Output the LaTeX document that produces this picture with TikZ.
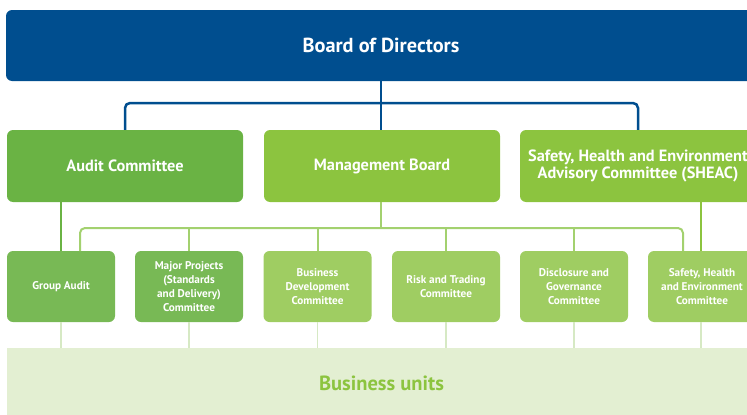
\documentclass[tikz,border=0pt]{standalone}
\usepackage{fontspec}
\setmainfont{PT Sans}
\usepackage{xcolor}

\definecolor{boardblue}{HTML}{004E8F}
\definecolor{auditgreen}{HTML}{6AB344}
\definecolor{mgmtgreen}{HTML}{8CC43F}
\definecolor{midgreen}{HTML}{78B955}
\definecolor{lightgreen}{HTML}{9FCD62}
\definecolor{busgreen}{HTML}{A3D16F}
\definecolor{faintgreen}{HTML}{D6E9C4}
\definecolor{unitsbg}{HTML}{E3EFD2}

\tikzset{
  box/.style={rounded corners=6pt, text=white, font=\bfseries, align=center, inner sep=0pt},
  bigbox/.style={box, minimum width=236pt, minimum height=72pt, font=\bfseries\fontsize{16.3}{17}\selectfont},
  smallbox/.style={box, minimum width=108pt, minimum height=71pt, font=\bfseries\fontsize{11.2}{14}\selectfont},
  bluelink/.style={draw=boardblue, line width=2.5pt, rounded corners=5pt},
  greenlink/.style={draw=#1, line width=2pt, rounded corners=5pt},
}

\begin{document}
\begin{tikzpicture}[x=1pt, y=-1pt]

    \useasboundingbox (0,0) rectangle (747,415);
    \clip (0,0) rectangle (747,415);

    \node [box, fill=boardblue, minimum width=750pt, minimum height=71pt,
           font=\bfseries\fontsize{20.3}{22}\selectfont] (bod) at (381, 45.5) {Board of Directors};

    \node [bigbox, fill=auditgreen] (audit) at (125, 166) {Audit Committee};
    \node [bigbox, fill=mgmtgreen] (mgmt) at (382, 166) {Management Board};
    \node [bigbox, fill=mgmtgreen] (sheac) at (638, 166) {Safety, Health and Environment\\Advisory Committee (SHEAC)};

    \node [smallbox, fill=midgreen] (ga) at (61, 286.5) {Group Audit};
    \node [smallbox, fill=midgreen] (mp) at (189, 286.5) {Major Projects\\(Standards\\and Delivery)\\Committee};
    \node [smallbox, fill=lightgreen] (bd) at (317.5, 286.5) {Business\\Development\\Committee};
    \node [smallbox, fill=lightgreen] (rt) at (446, 286.5) {Risk and Trading\\Committee};
    \node [smallbox, fill=lightgreen] (dg) at (574, 286.5) {Disclosure and\\Governance\\Committee};
    \node [smallbox, fill=lightgreen] (she) at (702, 286.5) {Safety, Health\\and Environment\\Committee};

    \node [fill=unitsbg, minimum width=749pt, minimum height=70pt, inner sep=0pt,
           text=mgmtgreen, font=\bfseries\fontsize{20.5}{22}\selectfont] (bu) at (381.5, 383) {Business units};

    \coordinate (top) at (381, 103);
    \coordinate (bus) at (381, 228);
    \coordinate (busl) at (80, 251);
    \coordinate (busr) at (683, 251);

    \draw [bluelink] (audit.north) |- (top) -| (sheac.north);
    \draw [bluelink] (bod.south) -- (mgmt.north -| bod.south);

    \draw [greenlink=auditgreen] (audit.south -| ga.north) -- (ga.north);
    \draw [greenlink=mgmtgreen] (she.north -| 701,0) -- (701, 202);

    \draw [greenlink=busgreen] (mgmt.south -| bus) -- (bus);
    \draw [greenlink=busgreen] (busl) |- (bus) -| (busr);
    \foreach \n in {mp, bd, rt, dg}
      \draw [greenlink=busgreen] (\n.north) -- (\n.north |- bus);

    \foreach \x in {61, 189, 317.5, 446, 574, 701}
      \draw [draw=faintgreen, line width=1.5pt] (\x, 322) -- (\x, 348);

\end{tikzpicture}
\end{document}
